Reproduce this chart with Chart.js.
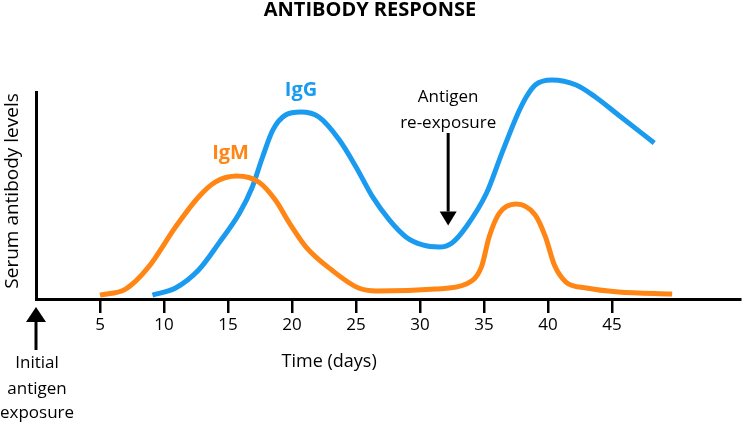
<!DOCTYPE html>
<html><head><meta charset="utf-8">
<script src="https://cdn.jsdelivr.net/npm/chart.js@4.4.1/dist/chart.umd.min.js"></script>
<style>html,body{margin:0;padding:0;background:#fff}#wrap{width:744px;height:424px;position:relative}</style>
</head><body><div id="wrap"><canvas id="c" width="744" height="424"></canvas></div>
<script>
const chartTitle = 'ANTIBODY RESPONSE';
const xTickValues = [5, 10, 15, 20, 25, 30, 35, 40, 45];
const igmDays   = [5, 7, 8.8, 10.9, 12.7, 14, 15.7, 17.4, 18.7, 19.8, 21.1, 23.1, 25.2, 26.6, 31.2, 33.6, 34.8, 35.4, 36.2, 37.5, 39.0, 39.8, 40.5, 41.4, 43, 45.5, 49.7];
const igmLevels = [1.9, 4.8, 15.5, 34.8, 49.3, 56.5, 59.4, 56.5, 47.8, 36.7, 25.1, 14.0, 5.3, 3.9, 4.8, 7.2, 15.5, 30.0, 41.5, 45.9, 40.6, 30.0, 16.4, 8.2, 5.3, 3.4, 2.4];
const iggDays   = [9.1, 10.9, 12.7, 14.3, 15.9, 16.9, 17.7, 18.5, 19.5, 20.7, 22.1, 23.7, 25.0, 26.3, 27.6, 28.9, 30.2, 31.5, 32.5, 33.6, 35.2, 36.4, 37.7, 38.3, 39.0, 40.3, 42.2, 43.7, 45.5, 48.3];
const iggLevels = [1.9, 5.3, 14.0, 27.1, 41.5, 54.1, 68.6, 81.6, 88.9, 90.3, 87.9, 76.8, 63.8, 49.3, 38.2, 30.0, 26.1, 25.1, 27.1, 34.8, 51.2, 70.5, 90.3, 97.6, 103.4, 105.8, 103.4, 97.6, 88.9, 75.4];
const seriesNames = ['IgM', 'IgG'];
const seriesColors = ['#FF8614', '#1A9BEF'];
const FONT = '"Open Sans", "Noto Sans", sans-serif';

const toPts = (xs, ys) => xs.map((d, i) => ({x: d, y: ys[i]}));

function arrow(ctx, x, yTail, yTip, headLen, headW, lw) {
  const dir = yTip > yTail ? 1 : -1;
  const yBase = yTip - dir * headLen;
  ctx.save();
  ctx.strokeStyle = '#000'; ctx.fillStyle = '#000'; ctx.lineWidth = lw;
  ctx.beginPath(); ctx.moveTo(x, yTail); ctx.lineTo(x, yBase); ctx.stroke();
  ctx.beginPath(); ctx.moveTo(x - headW / 2, yBase); ctx.lineTo(x + headW / 2, yBase); ctx.lineTo(x, yTip); ctx.closePath(); ctx.fill();
  ctx.restore();
}

const annot = {
  id: 'annot',
  afterDraw(chart) {
    const {ctx, scales: {x, y}} = chart;
    const base = y.getPixelForValue(0);
    ctx.save();
    ctx.textAlign = 'center'; ctx.textBaseline = 'middle';
    // series labels
    ctx.font = 'bold 20px ' + FONT;
    ctx.fillStyle = seriesColors[1];
    ctx.fillText(seriesNames[1], x.getPixelForValue(20.7), y.getPixelForValue(101));
    ctx.fillStyle = seriesColors[0];
    ctx.fillText(seriesNames[0], x.getPixelForValue(15.2), y.getPixelForValue(70.5));
    // re-exposure
    ctx.font = '17px ' + FONT;
    ctx.fillStyle = '#000';
    const rx = x.getPixelForValue(32.2);
    ctx.fillText('Antigen', rx, y.getPixelForValue(97.6));
    ctx.fillText('re-exposure', rx, y.getPixelForValue(85));
    arrow(ctx, rx, y.getPixelForValue(80.2), y.getPixelForValue(35.5), 14, 17, 3);
    // initial exposure
    const ix = x.getPixelForValue(0);
    arrow(ctx, ix, base + 51, base + 8, 15, 20, 3);
    ctx.fillText('Initial', ix + 1, base + 64);
    ctx.fillText('antigen', ix + 1, base + 90);
    ctx.fillText('exposure', ix + 1, base + 114);
    // axis titles
    ctx.font = '18px ' + FONT;
    ctx.fillText('Time (days)', x.getPixelForValue(22.9), base + 63);
    ctx.save();
    ctx.font = '19px ' + FONT;
    ctx.translate(13, y.getPixelForValue(52.2));
    ctx.rotate(-Math.PI / 2);
    ctx.fillText('Serum antibody levels', 0, 0);
    ctx.restore();
    ctx.restore();
  }
};

new Chart(document.getElementById('c'), {
  type: 'line',
  data: {
    datasets: [
      {label: seriesNames[0], data: toPts(igmDays, igmLevels), borderColor: seriesColors[0], borderWidth: 5, pointRadius: 0, cubicInterpolationMode: 'monotone', clip: false, fill: false},
      {label: seriesNames[1], data: toPts(iggDays, iggLevels), borderColor: seriesColors[1], borderWidth: 5, pointRadius: 0, cubicInterpolationMode: 'monotone', clip: false, fill: false}
    ]
  },
  options: {
    responsive: false, animation: false, devicePixelRatio: 1,
    layout: {padding: {left: 0, right: 4, top: 0, bottom: 0}},
    plugins: {
      legend: {display: false}, tooltip: {enabled: false},
      title: {display: true, text: chartTitle, color: '#000', font: {family: FONT, size: 20, weight: 'bold', lineHeight: 1}, padding: {top: 0, bottom: 72}}
    },
    scales: {
      x: {
        type: 'linear', min: 0, max: 55, position: 'bottom',
        afterFit: s => { s.height = 125; },
        ticks: {stepSize: 5, autoSkip: false, maxRotation: 0, color: '#000', padding: 2,
          font: {family: FONT, size: 17},
          callback: v => xTickValues.includes(v) ? String(v) : ''},
        grid: {drawOnChartArea: false, drawTicks: true, tickLength: 14, lineWidth: 2.5,
          color: c => (c.tick && xTickValues.includes(c.tick.value)) ? '#000' : 'rgba(0,0,0,0)'},
        border: {display: true, color: '#000', width: 3}
      },
      y: {
        min: 0, max: 100,
        afterFit: s => { s.width = 36; },
        ticks: {display: false},
        grid: {display: false},
        border: {display: true, color: '#000', width: 3}
      }
    }
  },
  plugins: [annot]
});
</script></body></html>
